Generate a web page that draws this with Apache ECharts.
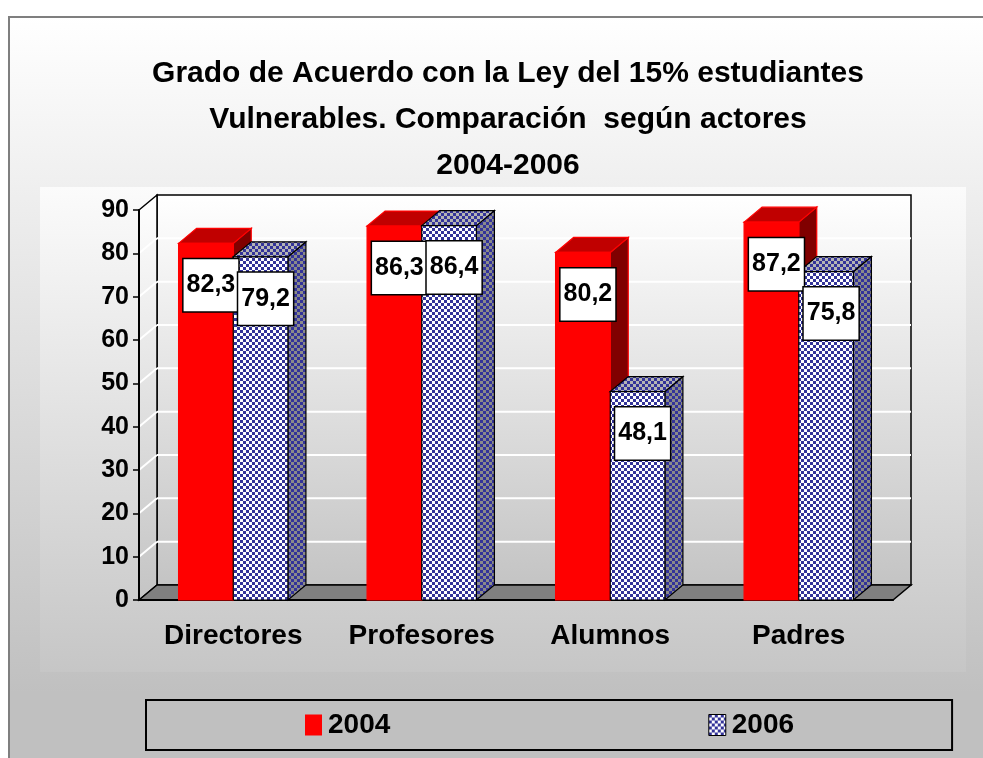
<!DOCTYPE html>
<html>
<head>
<meta charset="utf-8">
<title>Grado de Acuerdo con la Ley del 15%</title>
<script src="https://cdn.jsdelivr.net/npm/echarts@6/dist/echarts.min.js"></script>
<style>
  html, body { margin: 0; padding: 0; background: #fff; }
  #chart { width: 983px; height: 758px; }
</style>
</head>
<body>
<div id="chart"></div>
<script>
const categories = ['Directores', 'Profesores', 'Alumnos', 'Padres'];
const values2004 = [82.3, 86.3, 80.2, 87.2];
const values2006 = [79.2, 86.4, 48.1, 75.8];
const yTicks = [0, 10, 20, 30, 40, 50, 60, 70, 80, 90];
const seriesNames = ['2004', '2006'];

// depth of the fake 3d
const DX = 18;
const DY = -15;
const NAVY = '#333399';

function checker(c1, c2, s) {
  const cv = document.createElement('canvas');
  cv.width = cv.height = s * 2;
  const g = cv.getContext('2d');
  g.fillStyle = c2;
  g.fillRect(0, 0, s * 2, s * 2);
  g.fillStyle = c1;
  g.fillRect(0, 0, s, s);
  g.fillRect(s, s, s, s);
  return { image: cv, repeat: 'repeat' };
}

const faces2004 = { front: '#ff0000', top: '#c00000', side: '#800000', stroke: '#ff0000' };
const faces2006 = {
  front: checker(NAVY, '#ffffff', 3),
  top: checker(NAVY, '#b4b4b4', 3),
  side: checker(NAVY, '#8a8a8a', 3),
  stroke: '#000000'
};

const fmt = (v) => v.toFixed(1).replace('.', ',');

function barRenderer(idx, faces) {
  return function (params, api) {
    const i = api.value(0);
    const v = api.value(1);
    const base = api.coord([i, 0]);
    const top = api.coord([i, v]);
    const w = api.size([1, 0])[0] * 0.29;
    const x0 = idx === 0 ? base[0] - w : base[0];
    const x1 = x0 + w;
    const yt = top[1];
    const yb = base[1];
    const st = (fill) => ({ fill: fill, stroke: faces.stroke, lineWidth: 1.2 });
    return {
      type: 'group',
      children: [
        { type: 'polygon', shape: { points: [[x1, yt], [x1 + DX, yt + DY], [x1 + DX, yb + DY], [x1, yb]] }, style: st(faces.side) },
        { type: 'polygon', shape: { points: [[x0, yt], [x0 + DX, yt + DY], [x1 + DX, yt + DY], [x1, yt]] }, style: st(faces.top) },
        { type: 'rect', shape: { x: x0, y: yt, width: w, height: yb - yt }, style: st(faces.front) },
        {
          type: 'text',
          z2: 50,
          x: (x0 + x1) / 2 + 5,
          y: yt + 42,
          style: {
            text: fmt(v),
            align: 'center',
            verticalAlign: 'middle',
            fill: '#000',
            fontSize: 25,
            fontWeight: 'bold',
            fontFamily: '"Liberation Sans", Arial, sans-serif',
            lineHeight: 30,
            backgroundColor: '#ffffff',
            borderColor: '#000000',
            borderWidth: 1.5,
            padding: [11, 3]
          }
        }
      ]
    };
  };
}

function frameRenderer(params, api) {
  const cs = params.coordSys;
  const L = cs.x, R = cs.x + cs.width, T = cs.y, B = cs.y + cs.height;
  const wallFill = new echarts.graphic.LinearGradient(0, 0, 0, 1, [
    { offset: 0, color: '#ffffff' },
    { offset: 1, color: '#c4c4c4' }
  ]);
  const children = [
    // back wall
    { type: 'rect', shape: { x: L + DX, y: T + DY, width: R - L, height: B - T }, style: { fill: wallFill, stroke: '#000', lineWidth: 1.5 } },
    // left side wall
    { type: 'polygon', shape: { points: [[L, T], [L + DX, T + DY], [L + DX, B + DY], [L, B]] }, style: { fill: wallFill, stroke: '#000', lineWidth: 1.5 } }
  ];
  yTicks.forEach((t) => {
    if (t === 0 || t === yTicks[yTicks.length - 1]) return;
    const y = api.coord([0, t])[1];
    children.push({ type: 'line', shape: { x1: L + DX, y1: y + DY, x2: R + DX, y2: y + DY }, style: { stroke: '#ffffff', lineWidth: 2 } });
    children.push({ type: 'line', shape: { x1: L, y1: y, x2: L + DX, y2: y + DY }, style: { stroke: '#ffffff', lineWidth: 2 } });
  });
  // floor
  children.push({
    type: 'polygon',
    shape: { points: [[L, B], [L + DX, B + DY], [R + DX, B + DY], [R, B]] },
    style: { fill: '#808080', stroke: '#000', lineWidth: 1.5 }
  });
  return { type: 'group', children: children };
}

const chart = echarts.init(document.getElementById('chart'));

const axisFont = { color: '#000', fontWeight: 'bold', fontFamily: '"Liberation Sans", Arial, sans-serif' };

const option = {
  animation: false,
  graphic: [
    {
      type: 'rect', z: -20,
      shape: { x: 9, y: 17, width: 1100, height: 900 },
      style: {
        fill: new echarts.graphic.LinearGradient(0, 0, 0, 1, [
          { offset: 0, color: '#ffffff' },
          { offset: 0.75, color: '#c0c0c0' },
          { offset: 1, color: '#c0c0c0' }
        ]),
        stroke: '#7f7f7f', lineWidth: 2
      }
    },
    {
      type: 'rect', z: -19,
      shape: { x: 40, y: 187, width: 926, height: 485 },
      style: {
        fill: new echarts.graphic.LinearGradient(0, 0, 0, 1, [
          { offset: 0, color: '#fbfbfb' },
          { offset: 1, color: '#c6c6c6' }
        ])
      }
    }
  ],
  title: {
    text: 'Grado de Acuerdo con la Ley del 15% estudiantes\nVulnerables. Comparación  según actores\n2004-2006',
    left: 503,
    top: 46,
    textAlign: 'center',
    textStyle: {
      color: '#000',
      fontSize: 30,
      fontWeight: 'bold',
      lineHeight: 46,
      fontFamily: '"Liberation Sans", Arial, sans-serif'
    }
  },
  legend: {
    data: [
      { name: '2004', icon: 'rect', itemStyle: { color: '#ff0000', borderWidth: 0 } },
      { name: '2006', icon: 'rect', itemStyle: { color: faces2006.front, borderColor: '#000', borderWidth: 1 } }
    ],
    left: 146,
    top: 700,
    itemWidth: 17,
    itemHeight: 21,
    itemGap: 318,
    padding: [11, 158, 11, 159],
    backgroundColor: '#c0c0c0',
    borderColor: '#000',
    borderWidth: 2,
    textStyle: Object.assign({ fontSize: 28, padding: [0, 0, 0, 1] }, axisFont)
  },
  grid: {
    left: 139,
    right: 90,
    top: 210,
    bottom: 158
  },
  xAxis: {
    type: 'category',
    data: categories,
    axisLine: { lineStyle: { color: '#000', width: 2 } },
    axisTick: { length: 7, lineStyle: { color: '#000', width: 1.5 } },
    axisLabel: Object.assign({ fontSize: 28, margin: 22, interval: 0 }, axisFont),
    splitLine: { show: false }
  },
  yAxis: {
    type: 'value',
    min: 0,
    max: 90,
    interval: 10,
    axisLine: { show: true, lineStyle: { color: '#000', width: 2 } },
    axisTick: { show: true, length: 6, lineStyle: { color: '#000', width: 1.5 } },
    axisLabel: Object.assign({ fontSize: 25, margin: 10 }, axisFont),
    splitLine: { show: false }
  },
  series: [
    {
      type: 'custom',
      name: 'frame',
      z: -5,
      silent: true,
      renderItem: frameRenderer,
      data: [[0, 0]]
    },
    {
      type: 'custom',
      name: seriesNames[0],
      itemStyle: { color: '#ff0000' },
      renderItem: barRenderer(0, faces2004),
      data: values2004.map((v, i) => [i, v])
    },
    {
      type: 'custom',
      name: seriesNames[1],
      itemStyle: { color: faces2006.front },
      renderItem: barRenderer(1, faces2006),
      data: values2006.map((v, i) => [i, v])
    }
  ]
};

chart.setOption(option);
</script>
</body>
</html>
